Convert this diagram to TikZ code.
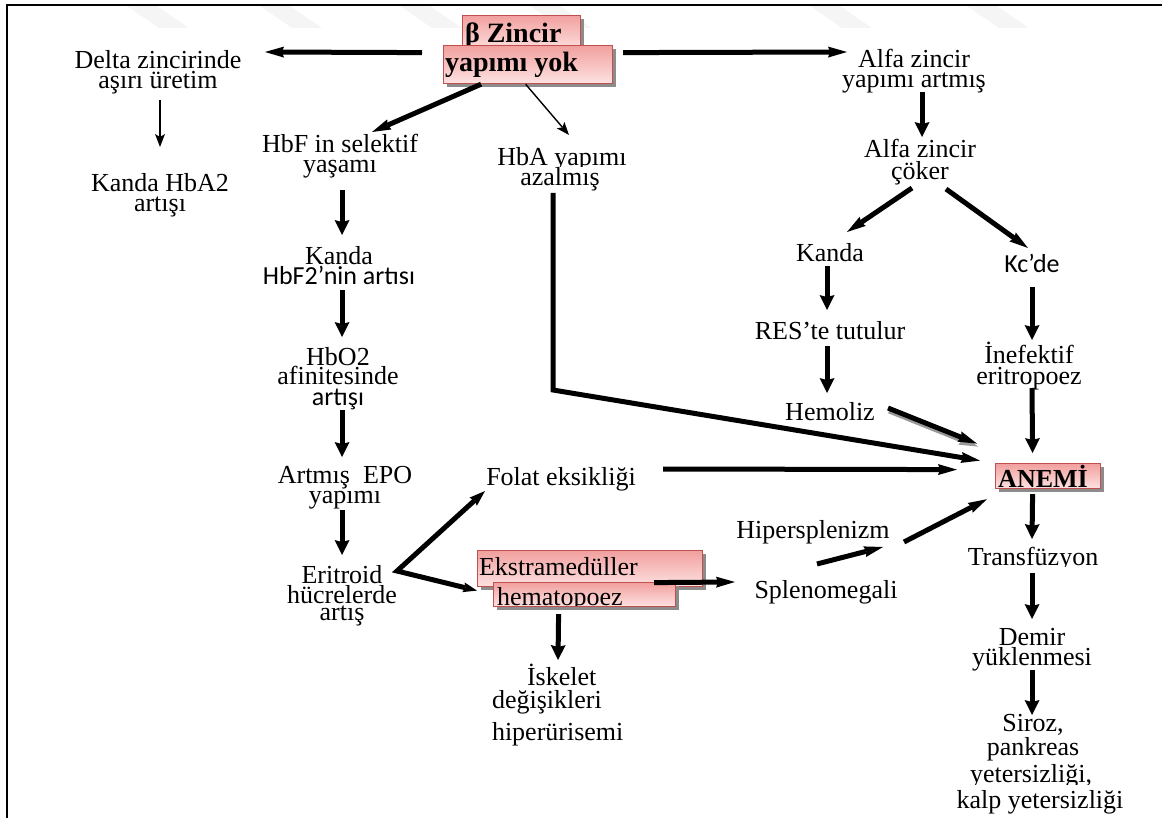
\documentclass[tikz,border=0pt]{standalone}
\usepackage{fontspec}
\setmainfont{Liberation Serif}
\newfontfamily\carlitofont{Carlito}
\usetikzlibrary{arrows.meta,shadows}
\definecolor{pbord}{RGB}{192,80,77}
\definecolor{ptop}{RGB}{241,160,158}
\definecolor{pbot}{RGB}{253,226,226}
\definecolor{wm}{RGB}{245,245,245}
\newcommand\mlc[1]{\vtop{\lineskiplimit=-40pt\lineskip=0pt\halign{\hfil##\hfil\cr#1\crcr}}}
\newcommand\mll[1]{\vtop{\lineskiplimit=-40pt\lineskip=0pt\halign{##\hfil\cr#1\crcr}}}
\begin{document}
\begin{tikzpicture}[x=1pt,y=-1pt,
  txt/.style={font={\fontsize{26}{20}\selectfont}, inner sep=0pt, outer sep=0pt, anchor=base},
  btxt/.style={txt, font={\fontsize{28}{22}\selectfont\bfseries}, anchor=base west},
  pbox/.style={draw=pbord, line width=1.2pt, top color=ptop, bottom color=pbot, inner sep=0pt, anchor=north west,
    drop shadow={shadow xshift=3pt, shadow yshift=-3pt, fill=black!45, opacity=1}},
  arrv/.style={line width=5pt, -{Stealth[length=15pt,width=15pt,inset=2pt,line width=0pt]}},
  arrn/.style={line width=5pt, -{Stealth[length=19pt,width=11pt,inset=2pt,line width=0pt]}},
  arrt/.style={line width=1.4pt, -{Stealth[length=13pt,width=10pt,inset=3pt,line width=0pt]}},
]
\useasboundingbox (0,0) rectangle (1162,818);
% faint watermark
\foreach \a in {127,260,400,530,810,967}
  \fill[wm] (\a,6) -- (\a+30,6) -- (\a+62,28) -- (\a+32,28) -- cycle;
% frame
\draw[line width=1.8pt] (7,818) -- (7,5) -- (1162,5);

% top boxes
\node[pbox, minimum width=118, minimum height=35] (zbox) at (462,15) {};
\node[btxt] (zt) at (465,43) {β Zincir};
\node[pbox, minimum width=169, minimum height=38] (ybox) at (443,45) {};
\node[btxt] (yt) at (445,72) {yapımı yok};

% left column
\node[txt] (delta) at (158,69) {\mlc{Delta zincirinde\cr aşırı üretim}};
\node[txt] (hba2) at (160,192) {\mlc{Kanda HbA2\cr artışı}};
\node[txt] (hbf) at (340,153) {\mlc{HbF in selektif\cr yaşamı}};
\node[txt] (kanda1) at (339,265) {\mlc{Kanda\cr{\carlitofont HbF2’nin artısı}}};
\node[txt] (hbo) at (338,365) {\mlc{HbO2\cr afinitesinde\cr{\carlitofont artışı}}};
\node[txt] (epo) at (345,483) {\mlc{Artmış\ \ EPO\cr yapımı}};
\node[txt] (erit) at (342,583) {\mlc{Eritroid\cr hücrelerde\cr\noalign{\vskip-3pt}artış}};

% middle
\begin{scope}
  \clip (480,140) rectangle (650,167);
  \node[txt] (hbaA) at (562,166) {HbA yapımı};
\end{scope}
\node[txt] (hbaB) at (560,186) {azalmış};
\node[txt] (folat) at (561,485) {Folat eksikliği};
\node[pbox, minimum width=225, minimum height=36] (ekbox) at (477,550) {};
\node[txt, anchor=base west] (ekt) at (479,575) {Ekstramedüller};
\node[pbox, minimum width=182, minimum height=24] (hmbox) at (493,582) {};
\begin{scope}
  \clip (493,582) rectangle (675,605);
  \node[txt, anchor=base west] (hmt) at (497,605) {hematopoez};
\end{scope}
\node[txt, anchor=base west] (isk) at (492,685) {\mll{\hspace*{35pt}İskelet\cr\noalign{\vskip3pt}değişikleri\cr\noalign{\vskip12pt}hiperürisemi}};

% right part
\node[txt] (alfa1) at (914,68) {\mlc{Alfa zincir\cr yapımı artmış}};
\node[txt] (alfa2) at (920,158) {\mlc{Alfa zincir\cr\noalign{\vskip2pt}çöker}};
\node[txt, font={\carlitofont\fontsize{26}{20}\selectfont}] (kc) at (1032,273) {Kc’de};
\node[txt] (kanda2) at (830,262) {Kanda};
\node[txt] (res) at (830,340) {RES’te tutulur};
\node[txt] (hemo) at (830,420) {Hemoliz};
\node[txt] (inef) at (1029,363) {\mlc{İnefektif\cr\noalign{\vskip1pt}eritropoez}};
\node[txt] (hiper) at (813,538) {Hipersplenizm};
\node[txt] (splen) at (826,598) {Splenomegali};
\node[pbox, minimum width=105, minimum height=25] (anbox) at (995,463) {};
\node[txt, font={\fontsize{26}{20}\selectfont\bfseries}] (ant) at (1043,487) {ANEMİ};
\begin{scope}
  \clip (950,530) rectangle (1120,566);
  \node[txt] (trans) at (1033,565) {Transfüzyon};
\end{scope}
\node[txt] (demir) at (1032,645) {\mlc{Demir\cr yüklenmesi}};
\node[txt] (sir1) at (1033,731) {\mlc{Siroz,\cr\noalign{\vskip4pt}pankreas}};
\begin{scope}
  \clip (950,760) rectangle (1120,784);
  \node[txt] (sir3) at (1031,782) {yetersizliği,};
\end{scope}
\node[txt] (sir4) at (1040,808) {kalp yetersizliği};

% connectors
\draw[arrn] ([shift={(-21,-12)}]ybox.west) -- ([shift={(107,-17)}]delta.base);
\draw[arrn] ([shift={(10,-12)}]ybox.east) -- ([shift={(-67,-16)}]alfa1.base);
\draw[arrn] ([shift={(-47,0)}]ybox.south) -- ([shift={(32,-21)}]hbf.base);
\draw[arrt] ([shift={(-2.5,0)}]ybox.south) -- ([shift={(7,-31)}]hbaA.base);
\draw[arrt] ([shift={(2,31)}]delta.base) -- ([shift={(0,-45)}]hba2.base);

\draw[arrv] ([shift={(2,37)}]hbf.base) -- ([shift={(3,-30)}]kanda1.base);
\draw[arrv] ([shift={(3,25)}]kanda1.base) -- ([shift={(4,-28)}]hbo.base);
\draw[arrv] ([shift={(4,45)}]hbo.base) -- ([shift={(-3,-26)}]epo.base);
\draw[arrv] ([shift={(-3,27)}]epo.base) -- ([shift={(0,-28)}]erit.base);

\coordinate (ev) at ([shift={(55,-12)}]erit.base);
\draw[line width=5pt, line join=miter,
  {Stealth[length=16pt,width=11pt,inset=2pt,line width=0pt]}-{Stealth[length=14pt,width=10pt,inset=2pt,line width=0pt]}]
  ([shift={(-76,6)}]folat.base) -- (ev) -- ([shift={(0,22)}]ekbox.west);

\draw[arrn] ([shift={(102,-16)}]folat.base) -- ([shift={(-38,-6.5)}]anbox.west);
\coordinate (hbacorner) at (553,390);
\draw[arrn, line join=miter] ([shift={(-7,7)}]hbaB.base) -- (hbacorner) -- ([shift={(-15,-15.5)}]anbox.west);

\draw[arrn, black!40] ([shift={(59,-9)}]hemo.base) -- ([shift={(-17,-29.5)}]anbox.west);
\draw[arrn] ([shift={(58,-12)}]hemo.base) -- ([shift={(-18,-32.5)}]anbox.west);

\draw[arrv] ([shift={(8,24)}]alfa1.base) -- ([shift={(2,-21)}]alfa2.base);
\draw[arrn] ([shift={(-8,30)}]alfa2.base) -- ([shift={(17,-30)}]kanda2.base);
\draw[arrn] ([shift={(26,31)}]alfa2.base) -- ([shift={(-4,-25)}]kc.base);
\draw[arrv] ([shift={(-3,4)}]kanda2.base) -- ([shift={(-3,-30)}]res.base);
\draw[arrv] ([shift={(-3,6)}]res.base) -- ([shift={(-3,-27)}]hemo.base);
\draw[arrv] ([shift={(0,14)}]kc.base) -- ([shift={(3,-23)}]inef.base);
\draw[arrv] ([shift={(3,25)}]inef.base) -- ([shift={(-15.5,-10)}]anbox.north);

\draw[arrn] ([shift={(-49,14)}]ekbox.east) -- ([shift={(-91,-16)}]splen.base);
\draw[arrv] ([shift={(-26,7)}]hmbox.south) -- ([shift={(66,-25)}]isk.base west);
\draw[arrn] ([shift={(-9,-34)}]splen.base) -- ([shift={(70,9)}]hiper.base);
\draw[arrn] ([shift={(91,4)}]hiper.base) -- ([shift={(-8,10)}]anbox.south west);

\draw[arrv] ([shift={(-15.5,5)}]anbox.south) -- ([shift={(-1,-26)}]trans.base);
\draw[arrv] ([shift={(-1,8)}]trans.base) -- ([shift={(0,-26)}]demir.base);
\draw[arrv] ([shift={(0,25)}]demir.base) -- ([shift={(-1,-16)}]sir1.base);
\end{tikzpicture}
\end{document}
